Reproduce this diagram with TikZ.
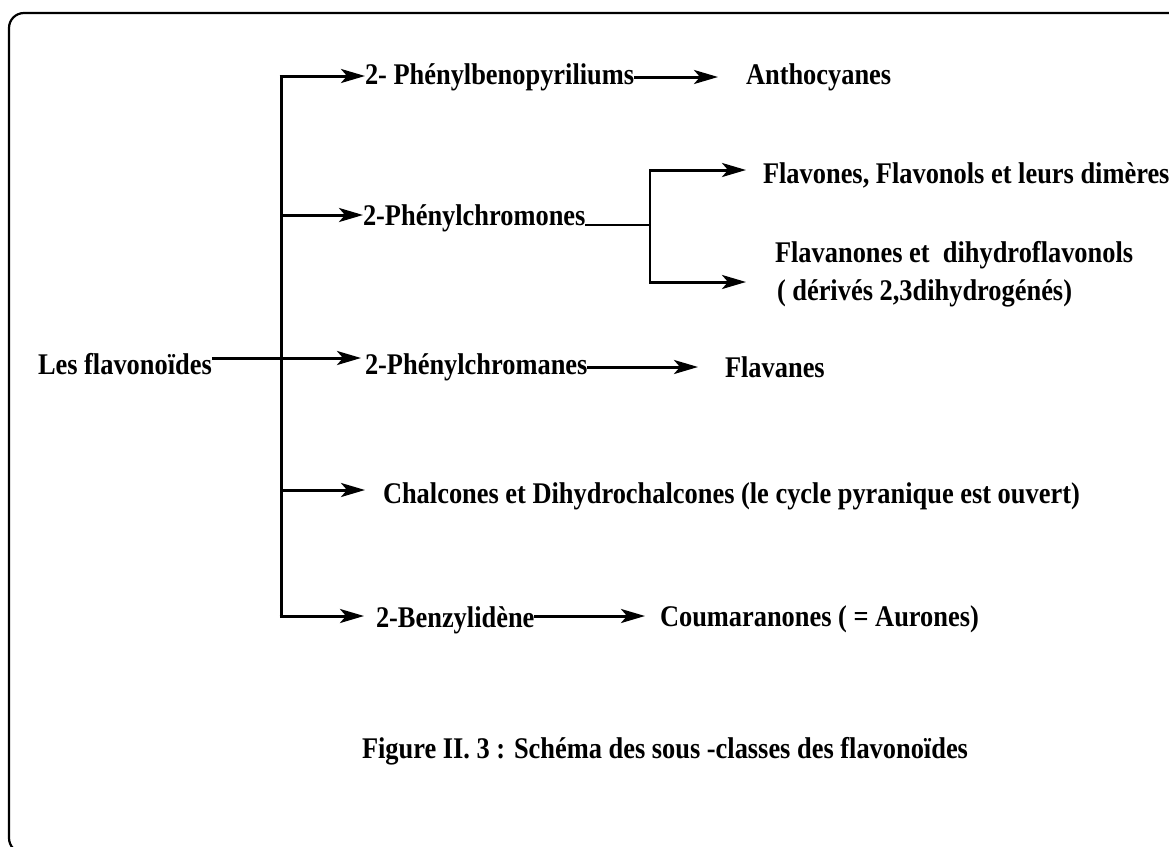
\documentclass[tikz,border=0pt]{standalone}
\usepackage{fontspec}
\setmainfont{Liberation Serif}[FakeStretch=0.88]
\usetikzlibrary{arrows.meta,calc}
\tikzset{
  lbl/.style={anchor=base west, inner sep=0pt, outer sep=0pt, font=\fontsize{30}{34}\selectfont\bfseries},
  conn/.style={line width=3pt},
  arr/.style={line width=3pt, -{Stealth[length=24pt,width=14pt,inset=6pt]}},
  thin/.style={line width=1.6pt},
  frame/.style={line width=2.2pt}
}
\begin{document}
\begin{tikzpicture}[x=1pt,y=-1pt]
\useasboundingbox (0,0) rectangle (1169,846);
% frame
\begin{scope}
\clip (0,0) rectangle (1169,846);
\draw[frame, rounded corners=15pt] (1175,13) -- (9,13) -- (9,853) -- (60,853);
\end{scope}
% text nodes
\node[lbl] (root) at (38,374) {Les flavonoïdes};
\node[lbl] (pyr) at (365,84) {2- Phénylbenopyriliums};
\node[lbl] (antho) at (746,84) {Anthocyanes};
\node[lbl] (chromones) at (363,225) {2-Phénylchromones};
\node[lbl] (flavones) at (763,183) {Flavones, Flavonols et leurs dimères};
\node[lbl] (flavanones) at (775,262) {Flavanones et\ \ dihydroflavonols};
\node[lbl] (derives) at (777,300) {( dérivés 2,3dihydrogénés)};
\node[lbl] (chromanes) at (365,374) {2-Phénylchromanes};
\node[lbl] (flavanes) at (725,377) {Flavanes};
\node[lbl] (chalcones) at (383,503) {Chalcones et Dihydrochalcones (le cycle pyranique est ouvert)};
\node[lbl] (benzyl) at (376,627) {2-Benzylidène};
\node[lbl] (couma) at (660,626) {Coumaranones ( = Aurones)};
\node[lbl] (caption) at (362,758) {Figure II. 3 : Schéma des sous -classes des flavonoïdes};
% junction coordinates
\coordinate (tTop) at (281,76);
\coordinate (tChromones) at (281,215);
\coordinate (tChalcones) at (281,490);
\coordinate (tBottom) at (281,616);
\coordinate (bTop) at (650,170);
\coordinate (bMid) at (650,225);
\coordinate (bBottom) at (650,282);
% trunk
\draw[conn] (tTop) -- (tBottom);
% branches from trunk
\draw[arr] ($(tTop)+(-1.5,0)$) -- (pyr.west |- tTop);
\draw[arr] (tChromones) -- (chromones.west |- tChromones);
\draw[arr] (root.east |- 0,358) -- ($(chromanes.west |- 0,358)+(-4,0)$);
\draw[arr] (tChalcones) -- ($(chalcones.west |- tChalcones)+(-18,0)$);
\draw[arr] ($(tBottom)+(-1.5,0)$) -- ($(benzyl.west |- tBottom)+(-12,0)$);
% second level
\draw[arr] (pyr.east |- 0,77) -- ($(antho.west |- 0,77)+(-28,0)$);
\draw[line width=2pt] (chromones.east |- bMid) -- (bMid);
\draw[thin] (bTop) -- (bBottom);
\draw[arr] ($(bTop)+(-0.8,0)$) -- ($(flavones.west |- bTop)+(-17,0)$);
\draw[arr] ($(bBottom)+(-0.8,0)$) -- ($(derives.west |- bBottom)+(-31,0)$);
\draw[arr] (chromanes.east |- 0,367) -- ($(flavanes.west |- 0,367)+(-27,0)$);
\draw[arr] (benzyl.east |- 0,616) -- ($(couma.west |- 0,616)+(-15,0)$);
\end{tikzpicture}
\end{document}
